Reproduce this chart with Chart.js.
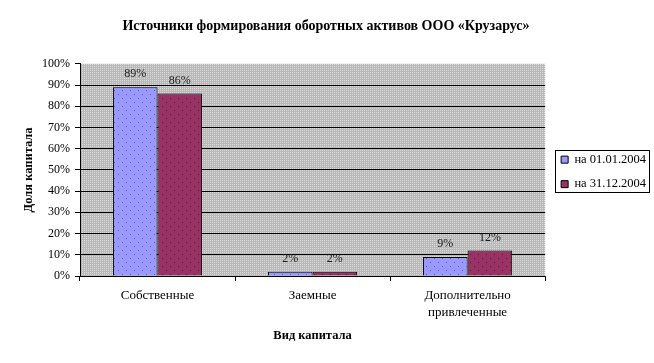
<!DOCTYPE html>
<html>
<head>
<meta charset="utf-8">
<script src="https://cdn.jsdelivr.net/npm/chart.js@4/dist/chart.umd.min.js"></script>
<style>
  html, body { margin: 0; padding: 0; background: #fff; }
  #wrap { width: 654px; height: 363px; }
</style>
</head>
<body>
<div id="wrap"><canvas id="kapChart" width="654" height="363"></canvas></div>
<script>
var categories = ['Собственные', 'Заемные', ['Дополнительно', 'привлеченные']];
var seriesNames = ['на 01.01.2004', 'на 31.12.2004'];
var valuesStart = [89, 2, 9];
var valuesEnd = [86, 2, 12];
var yTicks = [0, 10, 20, 30, 40, 50, 60, 70, 80, 90, 100];

// узор с точками
function makePattern(size, base, dot, dots) {
    var c = document.createElement('canvas');
    c.width = size; c.height = size;
    var g = c.getContext('2d');
    g.fillStyle = base;
    g.fillRect(0, 0, size, size);
    g.fillStyle = dot;
    dots.forEach(function(d) { g.fillRect(d[0], d[1], 1, 1); });
    return g.createPattern(c, 'repeat');
}

var ctx = document.getElementById('kapChart').getContext('2d');
var grayFill = makePattern(2, '#b8b8b8', '#dcdcdc', [[0, 0]]);
var blueFill = makePattern(8, '#9999ff', '#5a5ad0', [[2, 2], [6, 6]]);
var redFill = makePattern(8, '#993366', '#5c1a3a', [[2, 2], [6, 6]]);

var plotBg = {
    id: 'plotBg',
    beforeDraw: function(chart) {
        var a = chart.chartArea;
        var c = chart.ctx;
        c.save();
        c.fillStyle = grayFill;
        c.fillRect(a.left, a.top, a.right - a.left, a.bottom - a.top);
        c.restore();
    }
};

// сдвиг легенды вправо от области графика
var legendShift = {
    id: 'legendShift',
    afterLayout: function(chart) {
        chart.legend.left += 4;
        chart.legend.right += 4;
        chart.legend.top += 2;
        chart.legend.bottom += 2;
    }
};

var barLabels = {
    id: 'barLabels',
    afterDatasetsDraw: function(chart) {
        var c = chart.ctx;
        c.save();
        c.font = '12px "Liberation Serif"';
        c.fillStyle = '#1a1a1a';
        c.textAlign = 'center';
        c.textBaseline = 'middle';
        chart.data.datasets.forEach(function(ds, i) {
            chart.getDatasetMeta(i).data.forEach(function(bar, j) {
                c.fillText(ds.data[j] + '%', bar.x, bar.y - 13);
            });
        });
        c.restore();
    }
};

var legendBorder = {
    id: 'legendBorder',
    afterDraw: function(chart) {
        var boxes = chart.legend.legendHitBoxes;
        if (!boxes || !boxes.length) return;
        var l = Infinity, t = Infinity, r = -Infinity, b = -Infinity;
        boxes.forEach(function(h) {
            l = Math.min(l, h.left); t = Math.min(t, h.top);
            r = Math.max(r, h.left + h.width); b = Math.max(b, h.top + h.height);
        });
        var c = chart.ctx;
        c.save();
        c.strokeStyle = '#000';
        c.lineWidth = 1;
        c.strokeRect(Math.round(l - 6) + 0.5, Math.round(t - 3) + 0.5, Math.round(r - l + 9), Math.round(b - t + 5));
        c.restore();
    }
};

new Chart(ctx, {
    type: 'bar',
    data: {
        labels: categories,
        datasets: [{
            label: seriesNames[0],
            data: valuesStart,
            backgroundColor: blueFill,
            borderColor: '#000',
            borderWidth: 1,
            categoryPercentage: 0.575,
            barPercentage: 1
        }, {
            label: seriesNames[1],
            data: valuesEnd,
            backgroundColor: redFill,
            borderColor: '#000',
            borderWidth: 1,
            categoryPercentage: 0.575,
            barPercentage: 1
        }]
    },
    plugins: [plotBg, legendShift, barLabels, legendBorder],
    options: {
        responsive: false,
        animation: false,
        layout: { padding: { left: 0, right: 2, top: 0, bottom: 0 } },
        plugins: {
            title: {
                display: true,
                text: 'Источники формирования оборотных активов ООО «Крузарус»',
                color: '#000',
                font: { family: '"Liberation Serif"', size: 14, weight: 'bold' },
                padding: { top: 18, bottom: 29 }
            },
            legend: {
                position: 'right',
                fullSize: false,
                labels: {
                    color: '#000',
                    font: { family: '"Liberation Serif"', size: 12.5 },
                    boxWidth: 7,
                    boxHeight: 7,
                    padding: 12,
                    generateLabels: function(chart) {
                        return chart.data.datasets.map(function(ds, i) {
                            return {
                                text: ds.label,
                                fillStyle: i === 0 ? '#9999ff' : '#993366',
                                strokeStyle: '#000',
                                lineWidth: 1,
                                datasetIndex: i,
                                fontColor: '#000'
                            };
                        });
                    }
                }
            },
            tooltip: { enabled: false }
        },
        scales: {
            x: {
                grid: {
                    display: true,
                    drawOnChartArea: false,
                    color: '#000',
                    tickLength: 5,
                    offset: true
                },
                border: { color: '#000' },
                ticks: {
                    color: '#000',
                    padding: 6,
                    maxRotation: 0,
                    font: { family: '"Liberation Serif"', size: 13, lineHeight: 1.3 }
                },
                title: {
                    display: true,
                    text: 'Вид капитала',
                    color: '#000',
                    font: { family: '"Liberation Serif"', size: 12.5, weight: 'bold' },
                    padding: { top: 0, bottom: 20 }
                },
                afterFit: function(scale) { scale.height = 87; }
            },
            y: {
                min: 0,
                max: 100,
                afterBuildTicks: function(scale) {
                    scale.ticks = yTicks.map(function(v) { return { value: v }; });
                },
                grid: {
                    color: function(c) { return c.tick && c.tick.value === 100 ? 'rgba(0,0,0,0)' : '#000'; },
                    tickColor: '#000',
                    tickLength: 5
                },
                border: { color: '#000' },
                ticks: {
                    color: '#000',
                    padding: 5,
                    font: { family: '"Liberation Serif"', size: 12 },
                    callback: function(v) { return v + '%'; }
                },
                title: {
                    display: true,
                    text: 'Доля капитала',
                    color: '#000',
                    font: { family: '"Liberation Serif"', size: 12.5, weight: 'bold' },
                    padding: { top: 21, bottom: 0 }
                },
                afterFit: function(scale) { scale.width = 80; }
            }
        }
    }
});
</script>
</body>
</html>
